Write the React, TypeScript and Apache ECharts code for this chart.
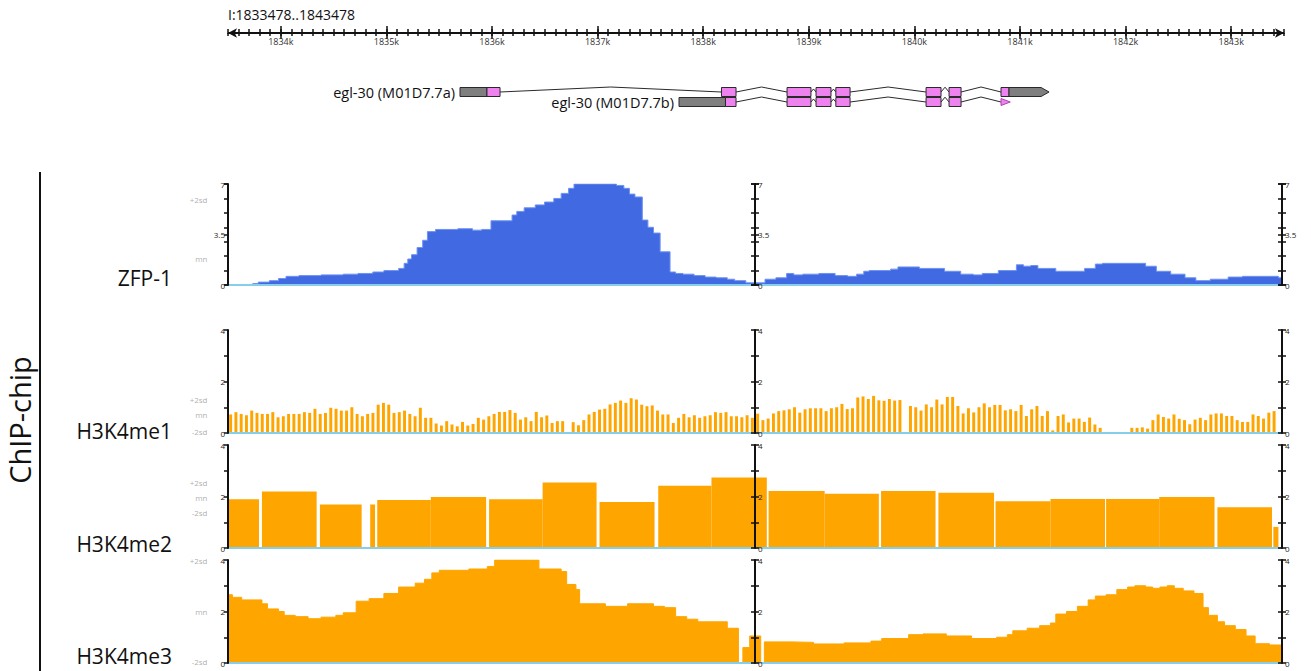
import React, { useEffect, useRef } from 'react';
import * as echarts from 'echarts';

const FONT = "'Open Sans', 'Noto Sans', sans-serif";

// ---------- region / ruler ----------
const REGION_START = 1833478;
const REGION_END = 1843478;
const REGION_LABEL = 'I:1833478..1843478';
const RULER_FIRST = 1833500;
const RULER_LAST = 1843500;
const RULER_MINOR_STEP = 100;
const RULER_MAJOR = [1834000, 1835000, 1836000, 1837000, 1838000, 1839000, 1840000, 1841000, 1842000, 1843000];

// ---------- labels ----------
const GROUP_NAME = 'ChIP-chip';
const TRACK_NAMES = ['ZFP-1', 'H3K4me1', 'H3K4me2', 'H3K4me3'];
const TX_NAMES = ['egl-30 (M01D7.7a)', 'egl-30 (M01D7.7b)'];

// ---------- gene models [start, end, part] ----------
const TXA_PARTS: [number, number, string][] = [
  [1835679, 1835935, 'utr'],
  [1835935, 1836059, 'cds'],
  [1838160, 1838298, 'cds'],
  [1838782, 1839009, 'cds'],
  [1839057, 1839199, 'cds'],
  [1839245, 1839380, 'cds'],
  [1840101, 1840243, 'cds'],
  [1840319, 1840433, 'cds'],
  [1840812, 1840888, 'cds'],
  [1840888, 1841268, 'utrEnd'],
];
const TXB_PARTS: [number, number, string][] = [
  [1837757, 1838198, 'utr'],
  [1838198, 1838298, 'cds'],
  [1838782, 1839009, 'cds'],
  [1839057, 1839199, 'cds'],
  [1839245, 1839380, 'cds'],
  [1840101, 1840243, 'cds'],
  [1840319, 1840433, 'cds'],
  [1840812, 1840900, 'cdsEnd'],
];

// ---------- ZFP-1 : step profile [offset bp from region start, value] ----------
const ZFP1_MAX = 7;
const ZFP1_STEPS: [number, number][] = [
  [0, 0], [235, 0.1], [287, 0.2], [392, 0.3], [480, 0.45], [550, 0.6], [673, 0.65], [883, 0.7],
  [1093, 0.75], [1233, 0.8], [1374, 0.9], [1479, 1.0], [1619, 1.15], [1671, 1.5], [1706, 1.8],
  [1741, 2.1], [1794, 2.6], [1847, 3.1], [1892, 3.7], [1969, 3.85], [2180, 3.9], [2320, 3.8],
  [2407, 3.85], [2495, 4.45], [2695, 4.85], [2740, 5.1], [2810, 5.35], [2915, 5.55], [3003, 5.75],
  [3091, 6.0], [3161, 6.35], [3231, 6.7], [3283, 7], [3686, 6.9], [3756, 6.7], [3809, 6.3],
  [3861, 6.1], [3931, 4.5], [3984, 4.0], [4037, 3.6], [4100, 2.3], [4194, 0.9], [4247, 0.8],
  [4317, 0.75], [4422, 0.65], [4527, 0.55], [4632, 0.5], [4737, 0.4], [4807, 0.3], [4913, 0.15],
  [5095, 0.4], [5198, 0.5], [5300, 0.8], [5368, 0.7], [5453, 0.75], [5606, 0.8], [5760, 0.65],
  [5879, 0.6], [5964, 0.75], [6032, 0.95], [6083, 1.0], [6287, 1.1], [6356, 1.25], [6560, 1.15],
  [6798, 0.95], [6952, 0.75], [7071, 0.7], [7156, 0.8], [7309, 1.0], [7480, 1.4], [7548, 1.3],
  [7616, 1.35], [7684, 1.15], [7854, 0.95], [8127, 1.15], [8229, 1.45], [8297, 1.5], [8706, 1.3],
  [8808, 0.95], [8944, 0.75], [9080, 0.5], [9183, 0.3], [9319, 0.4], [9489, 0.55], [9625, 0.6],
  [9966, 0.5],
];
const ZFP1_SD: [string, number][] = [['+2sd', 5.95], ['mn', 1.87]];

// ---------- H3K4me1 : probes every 50 bp ----------
const ME1_MAX = 4;
const ME1_BIN = 50;
const ME1_VALUES: (number | null)[] = [
  0.72, 0.81, 0.74, 0.69, 0.87, 0.78, 0.74, 0.74, 0.81, 0.61,
  0.65, 0.74, 0.74, 0.74, 0.81, 0.78, 0.94, 0.74, 0.78, 0.98,
  0.94, 0.87, 0.87, 1.0, 0.74, 0.65, 0.74, 0.78, 1.1, 1.17,
  1.1, 0.78, 0.81, 0.87, 0.74, 0.65, 0.98, 0.59, 0.59, 0.37,
  0.29, 0.46, 0.33, 0.26, 0.43, 0.29, 0.35, 0.59, 0.52, 0.65,
  0.74, 0.82, 0.82, 0.89, 0.78, 0.52, 0.61, 0.46, 0.82, 0.61,
  0.68, 0.39, 0.46, 0.46, null, 0.42, 0.3, 0.5, 0.72, 0.82,
  0.91, 0.94, 1.11, 1.17, 1.26, 1.17, 1.35, 1.3, 1.1, 1.04,
  1.07, 0.87, 0.72, 0.72, 0.39, 0.59, 0.74, 0.61, 0.69, 0.59,
  0.65, 0.69, 0.81, 0.78, 0.81, 0.65, 0.65, 0.61, 0.69, 0.59,
  0.75, 0.5, 0.56, 0.76, 0.85, 0.88, 0.92, 1.0, 0.79, 0.92,
  0.96, 0.96, 0.96, 0.85, 0.96, 1.0, 1.13, 0.93, 0.96, 1.38,
  1.42, 1.32, 1.44, 1.27, 1.25, 1.32, 1.26, 1.28, null, 1.05,
  1.0, 0.87, 1.11, 1.0, 1.3, 1.11, 1.4, 1.4, 1.05, 0.76,
  0.96, 0.8, 1.0, 1.15, 1.0, 1.09, 1.09, 0.88, 0.92, 0.85,
  1.09, 0.66, 0.92, 1.05, 0.66, 0.85, 0.1, 0.66, 0.72, 0.41,
  0.56, 0.56, 0.43, 0.6, 0.33, 0.2, null, null, null, null,
  null, 0.2, 0.2, 0.22, 0.17, 0.5, 0.72, 0.62, 0.56, 0.72,
  0.55, 0.5, 0.34, 0.52, 0.59, 0.5, 0.72, 0.76, 0.76, 0.66,
  0.66, 0.5, 0.43, 0.43, 0.72, 0.66, 0.56, 0.79, 0.85, null,
];
const ME1_SD: [string, number][] = [['+2sd', 1.3], ['mn', 0.7], ['-2sd', 0.06]];

// ---------- H3K4me2 : blocks [startOffset, endOffset, value] ----------
const ME2_MAX = 4;
const ME2_BLOCKS: [number, number, number][] = [
  [0, 294, 1.89], [322, 841, 2.19], [872, 1268, 1.69], [1349, 1395, 1.69], [1416, 1924, 1.86],
  [1924, 2449, 1.98], [2477, 2985, 1.89], [2985, 3497, 2.54], [3525, 4047, 1.79], [4082, 4587, 2.42],
  [4587, 5112, 2.74], [5129, 5661, 2.21], [5661, 6175, 2.11], [6196, 6713, 2.21], [6740, 7268, 2.15],
  [7282, 7803, 1.82], [7803, 8321, 1.9], [8331, 8835, 1.9], [8835, 9360, 1.98], [9387, 9905, 1.58],
  [9918, 9966, 0.82],
];
const ME2_SD: [string, number][] = [['+2sd', 2.56], ['mn', 1.98], ['-2sd', 1.36]];

// ---------- H3K4me3 : step profile [offset, value] ----------
const ME3_MAX = 4;
const ME3_STEPS: [number, number][] = [
  [0, 2.65], [42, 2.55], [130, 2.45], [322, 2.3], [375, 2.1], [480, 2.0], [533, 1.85], [638, 1.8],
  [760, 1.72], [883, 1.78], [1023, 1.85], [1093, 1.95], [1216, 2.4], [1339, 2.5], [1479, 2.7],
  [1619, 2.95], [1776, 3.1], [1864, 3.25], [1934, 3.5], [2004, 3.6], [2285, 3.65], [2460, 3.75],
  [2530, 4.0], [2950, 3.65], [3161, 3.55], [3213, 3.05], [3301, 2.85], [3336, 2.3], [3581, 2.2],
  [3791, 2.3], [4037, 2.2], [4142, 2.15], [4247, 1.8], [4352, 1.7], [4457, 1.6], [4737, 1.35],
  [4843, 0], [4885, 0.6], [4950, 1.05], [5054, 0], [5089, 0.82], [5351, 0.8], [5555, 0.74],
  [5845, 0.78], [6100, 0.85], [6202, 0.95], [6458, 1.1], [6594, 1.13], [6815, 1.05], [7054, 0.95],
  [7292, 1.0], [7394, 1.1], [7446, 1.25], [7582, 1.35], [7701, 1.45], [7803, 1.55], [7854, 1.9],
  [7956, 2.0], [8059, 2.2], [8161, 2.45], [8229, 2.6], [8331, 2.65], [8433, 2.85], [8535, 2.95],
  [8604, 3.0], [8706, 2.95], [8774, 2.9], [8842, 2.95], [8910, 3.0], [8978, 2.9], [9063, 2.8],
  [9165, 2.7], [9251, 2.15], [9302, 1.85], [9387, 1.6], [9455, 1.45], [9557, 1.3], [9659, 1.05],
  [9745, 0.75], [9881, 0.7],
];
const ME3_SD: [string, number][] = [['+2sd', 3.97], ['mn', 1.99], ['-2sd', 0.06]];

// ---------- layout ----------
const TRACK_LEFT = 228;
const TRACK_WIDTH = 1054;
const HALF = TRACK_WIDTH / 2;
const TRACK_TOPS = [184, 330, 445, 560];
const TRACK_HEIGHTS = [101, 103, 103, 103];
const TRACK_LABEL_Y = [278, 431, 544, 656];
const WINDOW = REGION_END - REGION_START;
const ORANGE = '#FFA500';
const BLUE = '#4169E1';

function makeY(gridIndex: number, max: number, interval: number, position: string, offset: number,
  showLabel: boolean, showLine: boolean, formatter: (v: number) => string) {
  return {
    type: 'value', gridIndex, min: 0, max, interval, position, offset, z: 4,
    axisLine: { show: showLine, lineStyle: { color: '#111', width: 2 } },
    axisTick: { show: true, length: 4, lineStyle: { color: '#111', width: 1.5 } },
    axisLabel: { show: showLabel, fontSize: 8, color: '#222', margin: 3, formatter, fontFamily: FONT },
    splitLine: { show: false },
  };
}

function buildOption() {
  const rulerCats: string[] = [];
  for (let p = RULER_FIRST; p <= RULER_LAST; p += RULER_MINOR_STEP) rulerCats.push(String(p));
  const isMajor = (_i: number, v: string) => RULER_MAJOR.indexOf(Number(v)) >= 0;

  const grids = [
    { left: TRACK_LEFT, top: 32, width: 1056, height: 1 },
    { left: TRACK_LEFT, top: 87, width: TRACK_WIDTH, height: 20 },
    ...TRACK_TOPS.map((t, i) => ({ left: TRACK_LEFT, top: t, width: TRACK_WIDTH, height: TRACK_HEIGHTS[i] })),
  ];

  const hiddenValueX = (gridIndex: number, min: number, max: number) => ({ type: 'value', gridIndex, min, max, show: false });
  const baselineX = (gridIndex: number) => ({
    type: 'value', gridIndex, min: 0, max: WINDOW, z: 3,
    axisLine: { show: true, onZero: false, lineStyle: { color: '#87CEEB', width: 2 } },
    axisTick: { show: false }, axisLabel: { show: false }, splitLine: { show: false },
  });
  const rulerAxis = (position: string, major: boolean, withLine: boolean) => ({
    type: 'category', gridIndex: 0, data: rulerCats, boundaryGap: false, position,
    axisLine: withLine ? { show: true, symbol: ['arrow', 'arrow'], symbolSize: [7, 9], lineStyle: { color: '#111', width: 2 } } : { show: false },
    axisTick: { show: true, interval: major ? isMajor : 0, length: major ? 6 : 3, lineStyle: { color: '#111', width: 1.5 } },
    axisLabel: major && position === 'bottom'
      ? { show: true, interval: isMajor, fontSize: 9, color: '#333', margin: 4, fontFamily: FONT, formatter: (v: string) => Number(v) / 1000 + 'k' }
      : { show: false },
    splitLine: { show: false },
  });

  const xAxes: any[] = [
    rulerAxis('bottom', false, true),   // 0
    rulerAxis('top', false, false),     // 1
    rulerAxis('bottom', true, false),   // 2
    rulerAxis('top', true, false),      // 3
    hiddenValueX(1, REGION_START, REGION_END), // 4 genes
    baselineX(2),                       // 5 ZFP-1
    {                                   // 6 H3K4me1 bins
      type: 'category', gridIndex: 3, data: ME1_VALUES.map((_, i) => String(i * ME1_BIN)), boundaryGap: true, z: 3,
      axisLine: { show: true, onZero: false, lineStyle: { color: '#87CEEB', width: 2 } },
      axisTick: { show: false }, axisLabel: { show: false }, splitLine: { show: false },
    },
    baselineX(4),                       // 7 H3K4me2
    baselineX(5),                       // 8 H3K4me3
    hiddenValueX(3, 0, WINDOW),         // 9 H3K4me1 helper
  ];

  const yAxes: any[] = [
    { type: 'value', gridIndex: 0, show: false, min: 0, max: 1 },
    { type: 'value', gridIndex: 1, show: false, min: -0.5, max: 1.5, inverse: true },
  ];
  const slots = [
    { position: 'left', offset: 0, label: true, line: true },
    { position: 'right', offset: -HALF, label: true, line: true },
    { position: 'left', offset: -HALF, label: false, line: false },
    { position: 'right', offset: 0, label: true, line: true },
    { position: 'left', offset: -2 * HALF, label: false, line: false },
  ];
  const addTrackAxes = (gridIndex: number, max: number, labelInterval: number, tickInterval: number,
    fmt: (v: number) => string) => {
    const first = yAxes.length;
    slots.forEach((s) => {
      yAxes.push(makeY(gridIndex, max, labelInterval, s.position, s.offset, s.label, s.line, fmt));
      if (tickInterval !== labelInterval) {
        yAxes.push(makeY(gridIndex, max, tickInterval, s.position, s.offset, false, false, fmt));
      }
    });
    return first;
  };
  const even = (v: number) => (v % 2 === 0 ? String(v) : '');
  const yZfp = addTrackAxes(2, ZFP1_MAX, 3.5, 1, (v) => String(v));
  const yMe1 = addTrackAxes(3, ME1_MAX, 1, 1, even);
  const yMe2 = addTrackAxes(4, ME2_MAX, 1, 1, even);
  const yMe3 = addTrackAxes(5, ME3_MAX, 1, 1, even);

  // gene parts -> custom items [start, end, row, kind]
  const KIND: Record<string, number> = { utr: 0, cds: 1, intron: 2, utrEnd: 3, cdsEnd: 4, label: 5 };
  const geneItems: number[][] = [];
  [TXA_PARTS, TXB_PARTS].forEach((parts, row) => {
    geneItems.push([parts[0][0], parts[0][0], row, KIND.label]);
    parts.forEach((p, i) => {
      if (i > 0 && p[0] > parts[i - 1][1]) geneItems.push([parts[i - 1][1], p[0], row, KIND.intron]);
      geneItems.push([p[0], p[1], row, KIND[p[2]]]);
    });
  });

  const stepData = (steps: [number, number][]) => {
    const d = steps.map(([o, v]) => [o, v]);
    d.push([WINDOW, steps[steps.length - 1][1]]);
    return d;
  };

  const sdSeries = (xAxisIndex: number, yAxisIndex: number, sd: [string, number][], x: number) => ({
    type: 'scatter', xAxisIndex, yAxisIndex, symbolSize: 1, itemStyle: { color: 'rgba(0,0,0,0)' },
    data: sd.map(([name, v]) => [x, v, name]),
    label: { show: true, position: 'left', distance: 20, formatter: (p: any) => p.data[2], fontSize: 8, color: '#999', fontFamily: FONT },
    silent: true, z: 5,
  });

  const series: any[] = [
    {
      type: 'custom', xAxisIndex: 4, yAxisIndex: 1, data: geneItems, clip: false, z: 3,
      renderItem: (_params: any, api: any) => {
        const s = api.value(0), e = api.value(1), row = api.value(2), kind = api.value(3);
        const p1 = api.coord([s, row]);
        const p2 = api.coord([e, row]);
        const x1 = p1[0], x2 = p2[0], y = p1[1];
        const h = 9;
        const top = y - h / 2, bot = y + h / 2;
        const stroke = '#2a2a2a';
        if (kind === 5) {
          return { type: 'text', style: { x: x1 - 5, y, text: TX_NAMES[row], align: 'right', verticalAlign: 'middle', fontSize: 14.5, fontFamily: FONT, fill: '#111' } };
        }
        if (kind === 2) {
          const peak = Math.min(5, (x2 - x1) * 0.6);
          return { type: 'polyline', shape: { points: [[x1, y], [(x1 + x2) / 2, y - peak], [x2, y]] }, style: { stroke, lineWidth: 1, fill: 'none' } };
        }
        if (kind === 0 || kind === 1) {
          return { type: 'rect', shape: { x: x1, y: top, width: x2 - x1, height: h }, style: { fill: kind === 0 ? '#7f7f7f' : '#EE82EE', stroke, lineWidth: 1 } };
        }
        if (kind === 3) {
          return { type: 'polygon', shape: { points: [[x1, top], [x2 - 8, top], [x2, y], [x2 - 8, bot], [x1, bot]] }, style: { fill: '#7f7f7f', stroke, lineWidth: 1 } };
        }
        return { type: 'polygon', shape: { points: [[x1, top + 1], [x2, y], [x1, bot - 1]] }, style: { fill: '#EE82EE', stroke: '#b040b0', lineWidth: 1 } };
      },
    },
    {
      type: 'line', xAxisIndex: 5, yAxisIndex: yZfp, data: stepData(ZFP1_STEPS), step: 'end', symbol: 'none',
      lineStyle: { color: '#6E92F2', width: 1 }, areaStyle: { color: BLUE, opacity: 1 }, z: 2,
    },
    sdSeries(5, yZfp, ZFP1_SD, 0),
    {
      type: 'bar', xAxisIndex: 6, yAxisIndex: yMe1, data: ME1_VALUES, barWidth: '56%',
      itemStyle: { color: ORANGE }, z: 2,
    },
    sdSeries(9, yMe1, ME1_SD, 0),
    {
      type: 'custom', xAxisIndex: 7, yAxisIndex: yMe2, data: ME2_BLOCKS, encode: { x: [0, 1], y: 2 }, z: 2,
      renderItem: (_params: any, api: any) => {
        const a = api.coord([api.value(0), api.value(2)]);
        const b = api.coord([api.value(1), 0]);
        return { type: 'rect', shape: { x: a[0], y: a[1], width: b[0] - a[0], height: b[1] - a[1] }, style: { fill: ORANGE } };
      },
    },
    sdSeries(7, yMe2, ME2_SD, 0),
    {
      type: 'line', xAxisIndex: 8, yAxisIndex: yMe3, data: stepData(ME3_STEPS), step: 'end', symbol: 'none',
      lineStyle: { color: ORANGE, width: 1 }, areaStyle: { color: ORANGE, opacity: 1 }, z: 2,
    },
    sdSeries(8, yMe3, ME3_SD, 0),
  ];

  const graphic: any[] = [
    { type: 'text', x: TRACK_LEFT, y: 14, style: { text: REGION_LABEL, fontSize: 14, fill: '#111', fontFamily: FONT, align: 'left', verticalAlign: 'middle' } },
    { type: 'line', shape: { x1: 40, y1: 172, x2: 40, y2: 671 }, style: { stroke: '#111', lineWidth: 2 } },
    { type: 'text', x: 19, y: 420, rotation: Math.PI / 2, style: { text: GROUP_NAME, fontSize: 29, fill: '#111', fontFamily: FONT, align: 'center', verticalAlign: 'middle' } },
    ...TRACK_NAMES.map((n, i) => ({
      type: 'text', x: 172, y: TRACK_LABEL_Y[i],
      style: { text: n, fontSize: 21, fill: '#111', fontFamily: FONT, align: 'right', verticalAlign: 'middle' },
    })),
  ];

  return {
    animation: false,
    backgroundColor: '#ffffff',
    textStyle: { fontFamily: FONT },
    grid: grids,
    xAxis: xAxes,
    yAxis: yAxes,
    series,
    graphic,
  };
}

export default function App() {
  const ref = useRef<HTMLDivElement>(null);
  useEffect(() => {
    if (!ref.current) return;
    const chart = echarts.init(ref.current, null, { renderer: 'svg' });
    chart.setOption(buildOption() as any);
    return () => chart.dispose();
  }, []);
  return (
    <div
      ref={ref}
      style={{ position: 'fixed', left: 0, top: 0, width: 1311, height: 671, background: '#fff' }}
    />
  );
}
